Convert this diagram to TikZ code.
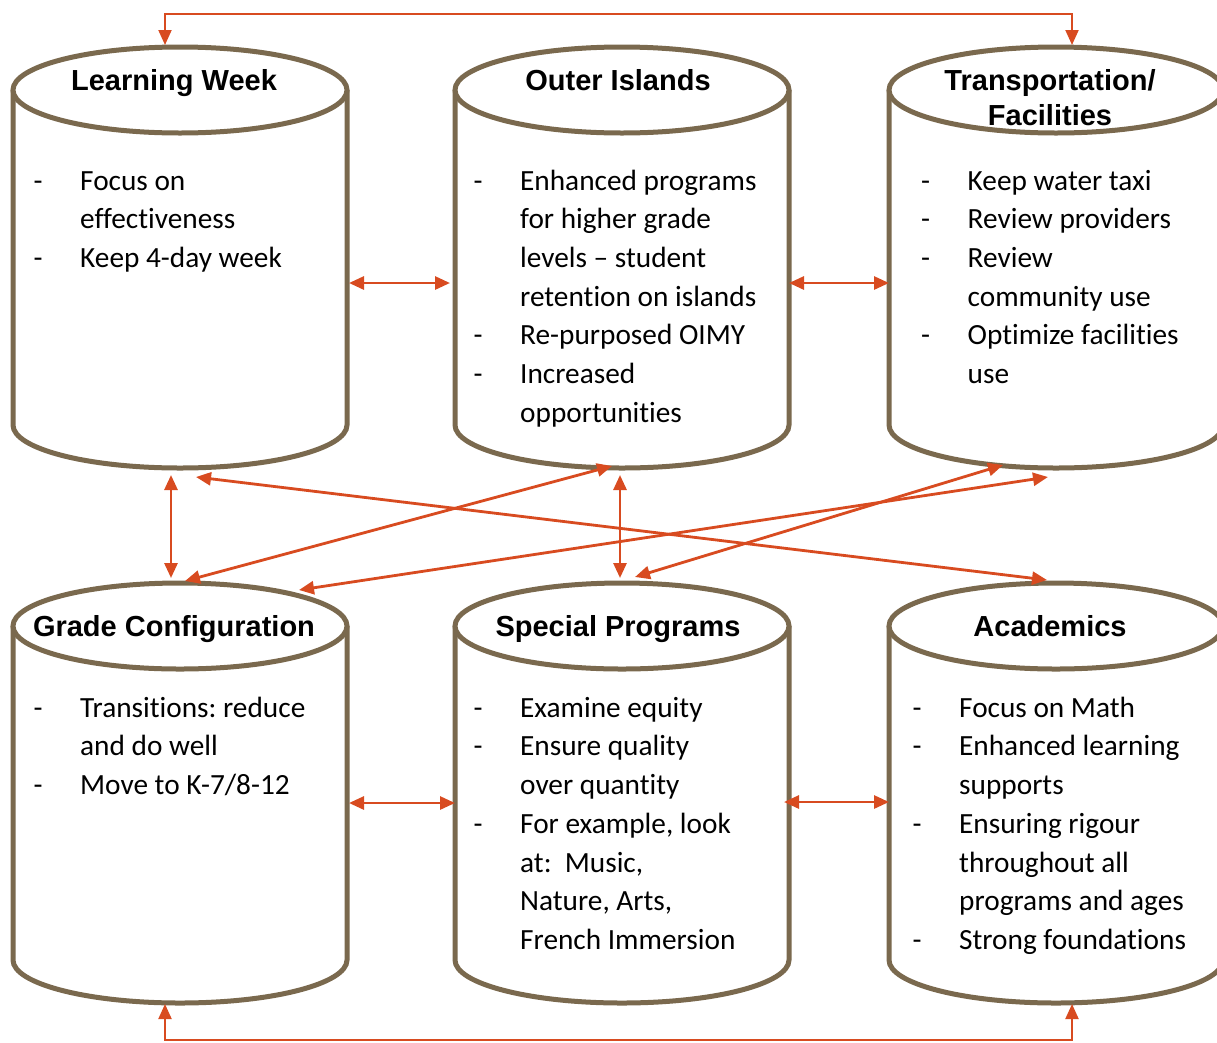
\documentclass[tikz,border=0pt]{standalone}
\usepackage{fontspec}
\setmainfont{Carlito}[Ligatures={NoCommon,NoContextual}]
\newfontfamily\headfont{Liberation Sans}
\usetikzlibrary{arrows.meta}

\definecolor{drumline}{RGB}{122,105,78}
\definecolor{linkred}{RGB}{216,75,32}

% bullet line and continuation line of a list
\newcommand\itm[1]{\strut\makebox[46.5pt][l]{-}#1}
\newcommand\cnt[1]{\strut\hspace*{46.5pt}#1}

% upright drum: left x, centre y of the top rim, centre y of the bottom rim
\newcommand\drumat[3]{%
  \draw[drumstyle] (#1,#2) -- (#1,#3)
    arc[start angle=180, end angle=0, x radius=167, y radius=43]
    -- (#1+334,#2);
  \draw[drumstyle] (#1+167,#2) ellipse [x radius=167, y radius=43];
}

\tikzset{
  drumstyle/.style={draw=drumline, line width=5pt, fill=white},
  title/.style={font=\headfont\bfseries\fontsize{29}{35}\selectfont, inner sep=0pt},
  body/.style={font=\frenchspacing\fontsize{29.3}{38.7}\selectfont, inner sep=0pt, anchor=north west, align=left},
  tipstyle/.tip={Triangle[length=15pt, width=13pt]},
  link/.style={draw=linkred, line width=2.8pt, tipstyle-tipstyle},
  rail/.style={link, line width=2pt},
}

\begin{document}
\begin{tikzpicture}[x=1pt, y=-1pt]
\useasboundingbox (0,0) rectangle (1217,1042);
\fill[white] (0,0) rectangle (1217,1042);

% drums, top row then bottom row
\drumat{13}{90}{425}
\drumat{455}{90}{425}
\drumat{889}{90}{425}
\drumat{13}{626}{960}
\drumat{455}{626}{960}
\drumat{889}{626}{960}

% titles
\node[title, anchor=base] (lw) at (174,90) {Learning Week};
\node[title, anchor=base] (oi) at (618,90) {Outer Islands};
\node[title, anchor=north, align=center] (tf) at (1050,65.5) {\strut Transportation/\\\strut Facilities};
\node[title, anchor=base] (gc) at (174,636) {Grade Configuration};
\node[title, anchor=base] (sp) at (618,636) {Special Programs};
\node[title, anchor=base] (ac) at (1050,636) {Academics};

% lists
\node[body] (lw-list) at (33.5,162.9) {\itm{Focus on}\\\cnt{effectiveness}\\\itm{Keep 4-day week}};
\node[body] (oi-list) at (473.5,162.9) {\itm{Enhanced programs}\\\cnt{for higher grade}\\\cnt{levels – student}\\\cnt{retention on islands}\\\itm{Re-purposed OIMY}\\\itm{Increased}\\\cnt{opportunities}};
\node[body] (tf-list) at (921,162.9) {\itm{Keep water taxi}\\\itm{Review providers}\\\itm{Review}\\\cnt{community use}\\\itm{Optimize facilities}\\\cnt{use}};
\node[body] (gc-list) at (33.5,689.9) {\itm{Transitions: reduce}\\\cnt{and do well}\\\itm{Move to K-7/8-12}};
\node[body] (sp-list) at (473.5,689.9) {\itm{Examine equity}\\\itm{Ensure quality}\\\cnt{over quantity}\\\itm{For example, look}\\\cnt{at:\ \ Music,}\\\cnt{Nature, Arts,}\\\cnt{French Immersion}};
\node[body] (ac-list) at (912.5,689.9) {\itm{Focus on Math}\\\itm{Enhanced learning}\\\cnt{supports}\\\itm{Ensuring rigour}\\\cnt{throughout all}\\\cnt{programs and ages}\\\itm{Strong foundations}};

% connector end points
\coordinate (lw-top) at (165,45);
\coordinate (tf-top) at (1072,45);
\coordinate (top-rail) at (0,14);
\coordinate (gc-bot) at (165,1004);
\coordinate (ac-bot) at (1072,1004);
\coordinate (bot-rail) at (0,1040);
\coordinate (lw-east) at (349,283);
\coordinate (oi-west) at (450,283);
\coordinate (oi-east) at (789,283);
\coordinate (tf-west) at (889,283);
\coordinate (gc-east) at (349,803);
\coordinate (sp-west) at (455,803);
\coordinate (sp-east) at (784,802);
\coordinate (ac-west) at (889,802);
\coordinate (lw-base) at (171,475);
\coordinate (gc-rim) at (171,578);
\coordinate (oi-base) at (620,475);
\coordinate (sp-rim) at (620,578);
\coordinate (oi-base2) at (612,466);
\coordinate (gc-rim2) at (185,581);
\coordinate (lw-base2) at (196,477);
\coordinate (ac-rim) at (1047,580);
\coordinate (tf-base) at (1048,477);
\coordinate (gc-rim3) at (299,590);
\coordinate (tf-base2) at (1003,465);
\coordinate (sp-rim2) at (635,577);

% connectors
\draw[rail] (lw-top) -- (lw-top |- top-rail) -- (tf-top |- top-rail) -- (tf-top);
\draw[rail] (gc-bot) -- (gc-bot |- bot-rail) -- (ac-bot |- bot-rail) -- (ac-bot);
\draw[link] (lw-east) -- (oi-west);
\draw[link] (oi-east) -- (tf-west);
\draw[link] (gc-east) -- (sp-west);
\draw[link] (sp-east) -- (ac-west);
\draw[link] (lw-base) -- (gc-rim);
\draw[link] (oi-base) -- (sp-rim);
\draw[link] (oi-base2) -- (gc-rim2);
\draw[link] (lw-base2) -- (ac-rim);
\draw[link] (tf-base) -- (gc-rim3);
\draw[link] (tf-base2) -- (sp-rim2);
\end{tikzpicture}
\end{document}
